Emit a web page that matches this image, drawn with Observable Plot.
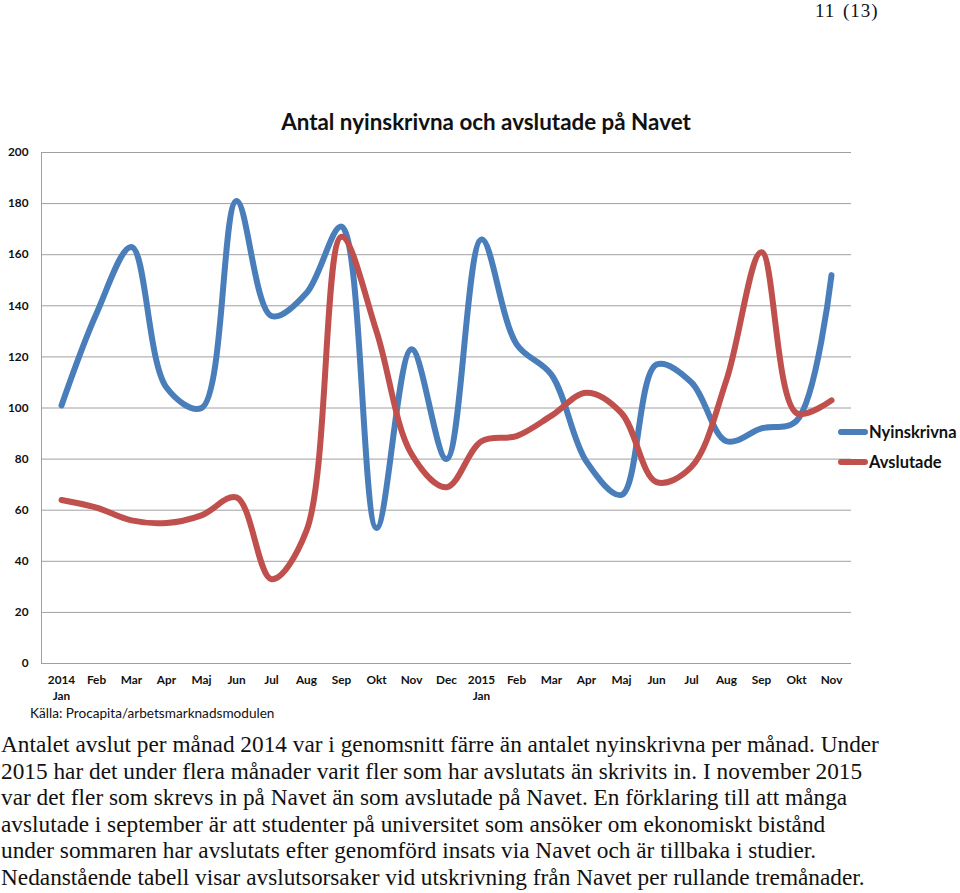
<!DOCTYPE html>
<html>
<head>
<meta charset="utf-8">
<script src="https://cdn.jsdelivr.net/npm/d3@7"></script>
<script src="https://cdn.jsdelivr.net/npm/@observablehq/plot@0.6"></script>
<style>
  html, body { margin: 0; padding: 0; background: #fff; }
  #page { position: relative; width: 960px; height: 893px; overflow: hidden; }
  #pagenum { position: absolute; top: 1px; left: 815px; font-family: "Liberation Serif", "Times New Roman", serif; font-size: 19px; line-height: 1; letter-spacing: 1px; word-spacing: 2px; color: #111; }
  #title { position: absolute; top: 108px; left: 0; width: 972px; text-align: center; font-family: Lato, Calibri, sans-serif; font-weight: bold; font-size: 22.4px; color: #111; }
  #chart { position: absolute; top: 0; left: 0; }
  #legend { position: absolute; left: 838px; top: 417px; font-family: Lato, Calibri, sans-serif; font-weight: bold; font-size: 16.5px; color: #111; }
  .lg { display: flex; align-items: center; height: 30px; white-space: nowrap; }
  .sw { width: 30px; height: 6px; border-radius: 3px; margin-right: 1px; }
  #source { position: absolute; left: 30px; top: 705px; font-family: Lato, Calibri, sans-serif; font-size: 13.6px; color: #111; }
  #para { position: absolute; left: 1px; top: 731px; font-family: "Liberation Serif", "Times New Roman", serif; font-size: 23.3px; line-height: 26.6px; color: #111; white-space: pre; }
</style>
</head>
<body>
<div id="page">
  <div id="pagenum">11 (13)</div>
  <div id="chart"></div>
  <div id="title">Antal nyinskrivna och avslutade på Navet</div>
  <div id="legend"></div>
  <div id="source">Källa: Procapita/arbetsmarknadsmodulen</div>
  <div id="para"></div>
</div>
<script>
// ---- data ----
const monthIndex = d3.range(23);
const tickLine1 = ["2014","Feb","Mar","Apr","Maj","Jun","Jul","Aug","Sep","Okt","Nov","Dec",
                   "2015","Feb","Mar","Apr","Maj","Jun","Jul","Aug","Sep","Okt","Nov"];
const tickLine2 = ["Jan","","","","","","","","","","","","Jan","","","","","","","","","",""];
const nyinskrivna = [101,137,163,108,100,181,136,145,171,53,123,80,166,125,113,79,66,117,110,87,92,95,152];
const avslutade   = [64,61,56,55,58,65,33,52,167,130,82,69,87,89,97,106,98,71,77,111,161,98,103];
const seriesNames = ["Nyinskrivna","Avslutade"];
const seriesColors = ["#4a7ebb","#c0504d"];
const yTicks = d3.range(0, 201, 20);
const paragraphLines = [
  "Antalet avslut per månad 2014 var i genomsnitt färre än antalet nyinskrivna per månad. Under",
  "2015 har det under flera månader varit fler som har avslutats än skrivits in. I november 2015",
  "var det fler som skrevs in på Navet än som avslutade på Navet. En förklaring till att många",
  "avslutade i september är att studenter på universitet som ansöker om ekonomiskt bistånd",
  "under sommaren har avslutats efter genomförd insats via Navet och är tillbaka i studier.",
  "Nedanstående tabell visar avslutsorsaker vid utskrivning från Navet per rullande tremånader."
];

const rows = [];
monthIndex.forEach(i => {
  rows.push({i, value: nyinskrivna[i], series: seriesNames[0]});
  rows.push({i, value: avslutade[i], series: seriesNames[1]});
});

const fontAxis = "Lato, Calibri, sans-serif";

const chart = Plot.plot({
  width: 960,
  height: 720,
  marginLeft: 41,
  marginRight: 109,
  marginTop: 152,
  marginBottom: 57,
  style: {fontFamily: fontAxis, fontSize: "11.8px", fontWeight: "bold", color: "#111", background: "transparent", overflow: "visible"},
  x: {type: "point", domain: monthIndex, padding: 0.5, axis: null},
  y: {domain: [0, 200], axis: null},
  color: {domain: seriesNames, range: seriesColors},
  marks: [
    Plot.gridY(yTicks, {stroke: "#a0a0a0", strokeOpacity: 1, strokeWidth: 1}),
    Plot.frame({anchor: "left", stroke: "#a0a0a0", strokeWidth: 1}),
    Plot.axisY({ticks: yTicks, tickSize: 0, tickPadding: 13, label: null, fontSize: 11.8, fontWeight: "bold"}),
    Plot.axisX({ticks: monthIndex, tickSize: 0, tickPadding: 12, label: null, tickFormat: i => tickLine1[i], fontSize: 11.8, fontWeight: "bold"}),
    Plot.axisX({ticks: monthIndex.filter(i => tickLine2[i]), tickSize: 0, tickPadding: 28, label: null, tickFormat: i => tickLine2[i], fontSize: 11.8, fontWeight: "bold"}),
    Plot.line(rows, {x: "i", y: "value", z: "series", stroke: "series", strokeWidth: 6, curve: "catmull-rom", strokeLinecap: "round", strokeLinejoin: "round"})
  ]
});
document.getElementById("chart").appendChild(chart);

// legend
const legend = document.getElementById("legend");
seriesNames.forEach((name, k) => {
  const row = document.createElement("div");
  row.className = "lg";
  const sw = document.createElement("span");
  sw.className = "sw";
  sw.style.background = seriesColors[k];
  const t = document.createElement("span");
  t.textContent = name;
  row.appendChild(sw);
  row.appendChild(t);
  legend.appendChild(row);
});

document.getElementById("para").textContent = paragraphLines.join("\n");
</script>
</body>
</html>
